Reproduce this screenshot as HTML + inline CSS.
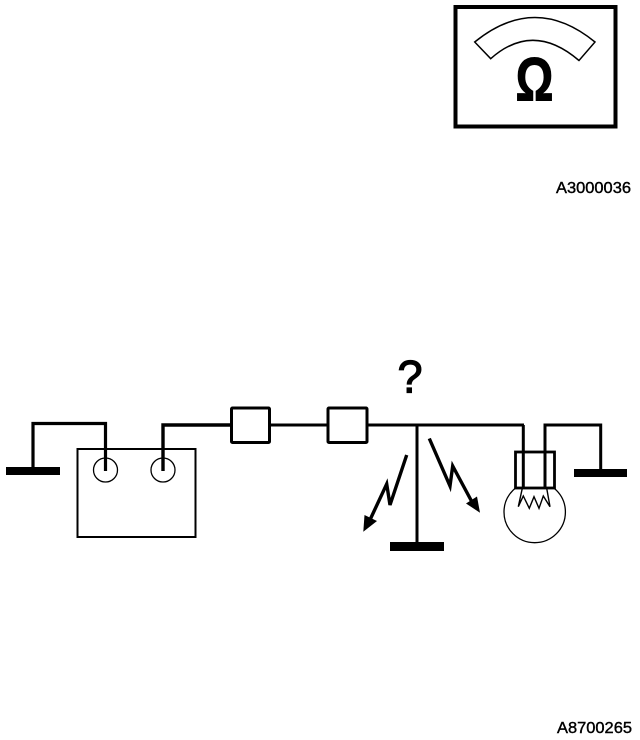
<!DOCTYPE html>
<html>
<head>
<meta charset="utf-8">
<style>
html,body{margin:0;padding:0;background:#fff;width:640px;height:740px;overflow:hidden}
svg{display:block}
text{font-family:"Liberation Sans",sans-serif;fill:#000}
</style>
</head>
<body>
<svg width="640" height="740" viewBox="0 0 640 740" xmlns="http://www.w3.org/2000/svg">
  <!-- Meter -->
  <rect x="455.5" y="7" width="160" height="119.5" fill="#fff" stroke="#000" stroke-width="4"/>
  <path d="M474.7 42 Q535 -7 595 42 L579 60.5 Q533 21 490.7 58.7 Z" fill="#fff" stroke="#000" stroke-width="1.5"/>
  <text x="534.5" y="100.5" font-size="61" font-weight="bold" text-anchor="middle" textLength="38" lengthAdjust="spacingAndGlyphs" stroke="#000" stroke-width="1">Ω</text>
  <text x="556" y="193" font-size="15.5" textLength="75" lengthAdjust="spacingAndGlyphs" stroke="#000" stroke-width="0.4">A3000036</text>

  <!-- Battery -->
  <rect x="77.5" y="449" width="118" height="88" fill="#fff" stroke="#000" stroke-width="2"/>
  <circle cx="105.5" cy="470" r="12" fill="#fff" stroke="#000" stroke-width="1.3"/>
  <circle cx="163" cy="470" r="12" fill="#fff" stroke="#000" stroke-width="1.3"/>
  <rect x="6" y="467" width="54" height="8" fill="#000"/>
  <path d="M33 468 V423.5 H105.5 V471" fill="none" stroke="#000" stroke-width="3.2"/>
  <path d="M163 471 V425 H231" fill="none" stroke="#000" stroke-width="3.4"/>

  <!-- Fuses and main wire -->
  <path d="M269 425 H328 M367 425 H524" fill="none" stroke="#000" stroke-width="3"/>
  <rect x="231.5" y="408" width="38" height="34.5" rx="1" fill="#fff" stroke="#000" stroke-width="3"/>
  <rect x="328" y="408" width="39" height="34.5" rx="1" fill="#fff" stroke="#000" stroke-width="3"/>

  <!-- Question mark -->
  <text x="410" y="392.5" font-size="45" text-anchor="middle" stroke="#000" stroke-width="1.2">?</text>

  <!-- Centre ground -->
  <path d="M417 425 V543" fill="none" stroke="#000" stroke-width="3"/>
  <rect x="390" y="542" width="54" height="9" fill="#000"/>

  <!-- Lightning arrows -->
  <path d="M406.7 455 L390 505 L386.7 484 L369 522" fill="none" stroke="#000" stroke-width="3.4"/>
  <polygon points="363.3,531.7 364.5,515 377,521" fill="#000"/>
  <path d="M429.3 438.5 L450 486 L452.7 466 L472 502" fill="none" stroke="#000" stroke-width="3.4"/>
  <polygon points="480,512.7 466,503.5 477,496.5" fill="#000"/>

  <!-- Bulb -->
  <circle cx="534.7" cy="512" r="30.7" fill="#fff" stroke="#000" stroke-width="1.3"/>
  <rect x="515.5" y="452" width="39" height="36" fill="#fff" stroke="#000" stroke-width="2.8"/>
  <path d="M524 425 H523.3 V487.5 M545 487.5 V425 H600.7 V470" fill="none" stroke="#000" stroke-width="3"/>
  <path d="M522.3 488.3 L518.3 506.7 L523.3 496 L529.3 508.3 L534 496.7 L539 508.3 L543.3 496 L550 506.7 L546.7 488.3" fill="none" stroke="#000" stroke-width="1.4"/>
  <rect x="574" y="469" width="53" height="8" fill="#000"/>

  <text x="557" y="733" font-size="15.5" textLength="75" lengthAdjust="spacingAndGlyphs" stroke="#000" stroke-width="0.4">A8700265</text>
</svg>
</body>
</html>
